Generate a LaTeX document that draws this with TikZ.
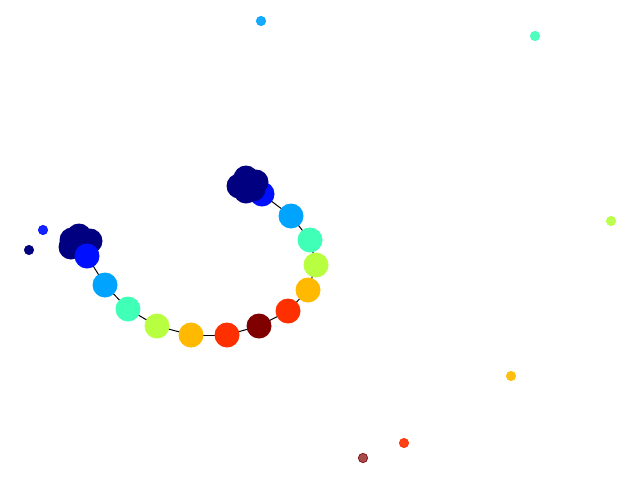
\documentclass[tikz,border=0pt]{standalone}
\usepackage{tikz}
\usetikzlibrary{backgrounds}
\definecolor{jnavy}{RGB}{0,0,128}
\definecolor{jblue}{RGB}{0,16,255}
\definecolor{jsky}{RGB}{0,164,255}
\definecolor{jaqua}{RGB}{64,255,183}
\definecolor{jlime}{RGB}{183,255,64}
\definecolor{jamber}{RGB}{255,185,0}
\definecolor{jred}{RGB}{255,48,0}
\definecolor{jdark}{RGB}{128,0,0}

\begin{document}
\begin{tikzpicture}[
  x=1pt, y=-1pt,
  dot/.style={circle, fill=#1, inner sep=0pt, minimum size=25pt},
  lone/.style={circle, fill=#1, draw=#1, line width=0.6pt, fill opacity=0.92,
               inner sep=0pt, minimum size=9.4pt},
  edge/.style={draw=black, line width=1pt}
]
\useasboundingbox (0,0) rectangle (640,480);

% left cluster
\node[dot=jnavy] (la1) at (72,240) {};
\node[dot=jnavy] (la2) at (79,236) {};
\node[dot=jnavy] (la3) at (90,241) {};
\node[dot=jnavy] (la4) at (71,247) {};
\node[dot=jnavy] (la5) at (83,247) {};
\node[dot=jblue] (l1) at (87,256) {};

% chain
\node[dot=jsky] (c1) at (105,285) {};
\node[dot=jaqua] (c2) at (128,309) {};
\node[dot=jlime] (c3) at (157,326) {};
\node[dot=jamber] (c4) at (191,335) {};
\node[dot=jred] (c5) at (227,335) {};
\node[dot=jdark] (c6) at (259,326) {};
\node[dot=jred] (c7) at (288,311) {};
\node[dot=jamber] (c8) at (308,290) {};
\node[dot=jlime] (c9) at (316,265) {};
\node[dot=jaqua] (c10) at (310,240) {};
\node[dot=jsky] (c11) at (291,216) {};
\node[dot=jblue] (t1) at (262,194) {};

% top cluster
\node[dot=jnavy] (ta1) at (239,186) {};
\node[dot=jnavy] (ta2) at (246,178) {};
\node[dot=jnavy] (ta3) at (256,182) {};
\node[dot=jnavy] (ta4) at (246,191) {};
\node[dot=jnavy] (ta5) at (253,189) {};

% isolated
\node[lone=jsky] (s1) at (261,21) {};
\node[lone=jaqua] (s2) at (535,36) {};
\node[lone=jlime] (s3) at (611,221) {};
\node[lone=jamber] (s4) at (511,376) {};
\node[lone=jred] (s5) at (404,443) {};
\node[lone=jdark, fill opacity=0.7] (s6) at (363,458) {};
\node[lone=jblue] (s7) at (43,230) {};
\node[lone=jnavy, fill opacity=1] (s8) at (29,250) {};

\begin{scope}[on background layer]
\draw[edge] (la5.center) -- (l1.center);
\draw[edge] (l1.center) -- (c1.center);
\draw[edge] (c1.center) -- (c2.center);
\draw[edge] (c2.center) -- (c3.center);
\draw[edge] (c3.center) -- (c4.center);
\draw[edge] (c4.center) -- (c5.center);
\draw[edge] (c5.center) -- (c6.center);
\draw[edge] (c6.center) -- (c7.center);
\draw[edge] (c7.center) -- (c8.center);
\draw[edge] (c8.center) -- (c9.center);
\draw[edge] (c9.center) -- (c10.center);
\draw[edge] (c10.center) -- (c11.center);
\draw[edge] (c11.center) -- (t1.center);
\draw[edge] (t1.center) -- (ta5.center);
\end{scope}
\end{tikzpicture}
\end{document}
